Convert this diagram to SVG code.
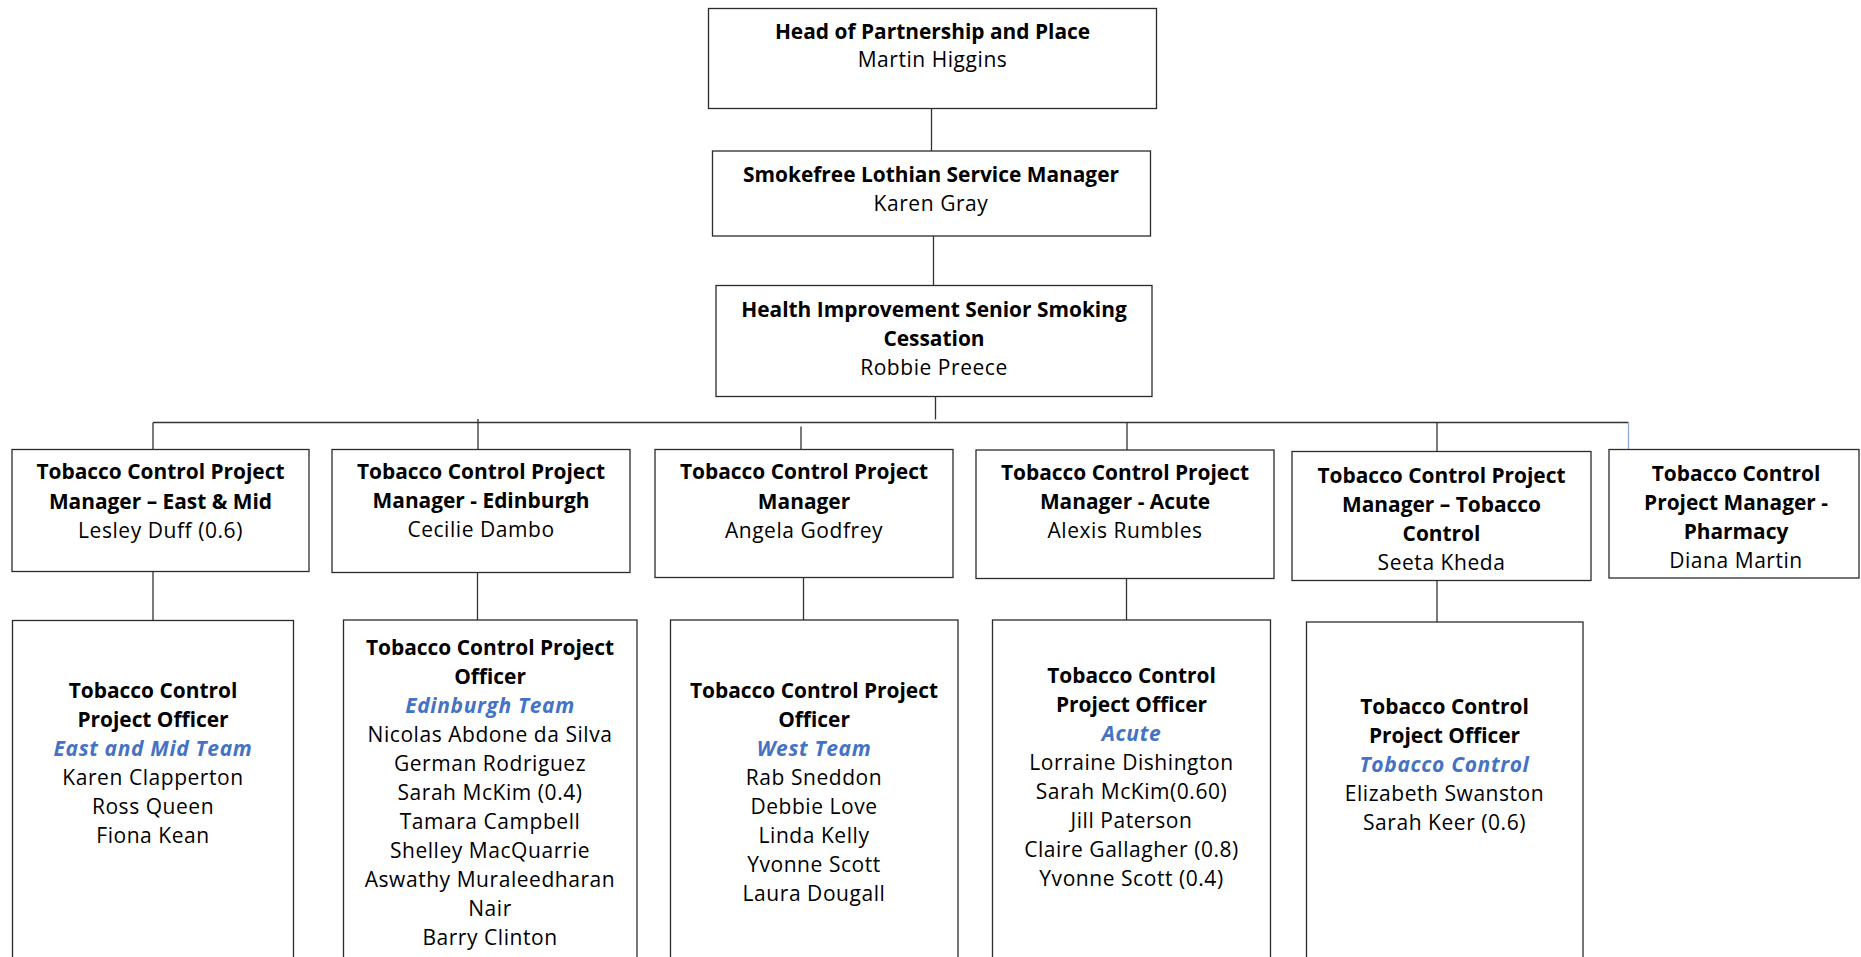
<svg xmlns="http://www.w3.org/2000/svg" width="1861" height="957" viewBox="0 0 1861 957">
<style>
.box{fill:#fff;stroke:#2b2b2b;stroke-width:1.3}
text{font-family:"Open Sans","Liberation Sans",sans-serif;font-size:21px;letter-spacing:0.55px;text-anchor:middle;fill:#000}
.b{font-weight:700;font-size:20.9px;letter-spacing:0}
.t{font-weight:700;font-style:italic;fill:#4472C4;letter-spacing:0.65px}
.conn line{stroke:#333;stroke-width:1.3}
</style>
<rect width="1861" height="957" fill="#fff"/>
<g class="conn">
<line x1="931.5" y1="108.5" x2="931.5" y2="151"/>
<line x1="933.5" y1="236" x2="933.5" y2="285.5"/>
<line x1="935.5" y1="396.5" x2="935.5" y2="419.5"/>
<line x1="153" y1="422.5" x2="1628.5" y2="422.5"/>
<line x1="153" y1="422.5" x2="153" y2="449.5"/>
<line x1="478" y1="419" x2="478" y2="449.5"/>
<line x1="801" y1="426.5" x2="801" y2="449.5"/>
<line x1="1127" y1="422.5" x2="1127" y2="450"/>
<line x1="1437" y1="422.5" x2="1437" y2="451.5"/>
<line x1="1628.5" y1="422.5" x2="1628.5" y2="449.5" style="stroke:#8FAADC"/>
<line x1="153" y1="571.5" x2="153" y2="620.5"/>
<line x1="477.5" y1="572.5" x2="477.5" y2="620"/>
<line x1="803.5" y1="577.5" x2="803.5" y2="620"/>
<line x1="1126.5" y1="578.5" x2="1126.5" y2="620"/>
<line x1="1437" y1="580.5" x2="1437" y2="622"/>
</g>
<g id="head">
<rect class="box" x="708.5" y="8.5" width="448" height="100"/>
<text class="b" x="932.5" y="39">Head of Partnership and Place</text>
<text x="932.5" y="67">Martin Higgins</text>
</g>
<g id="service-manager">
<rect class="box" x="712.5" y="151" width="438" height="85"/>
<text class="b" x="931" y="182">Smokefree Lothian Service Manager</text>
<text x="931" y="211">Karen Gray</text>
</g>
<g id="senior">
<rect class="box" x="716" y="285.5" width="436" height="111"/>
<text class="b" x="934" y="316.5">Health Improvement Senior Smoking</text>
<text class="b" x="934" y="345.5">Cessation</text>
<text x="934" y="375">Robbie Preece</text>
</g>
<g id="m1">
<rect class="box" x="12" y="449.5" width="297" height="122"/>
<text class="b" x="160.5" y="479">Tobacco Control Project</text>
<text class="b" x="160.5" y="508.5">Manager – East &amp; Mid</text>
<text x="160.5" y="538">Lesley Duff (0.6)</text>
</g>
<g id="m2">
<rect class="box" x="332" y="449.5" width="298" height="123"/>
<text class="b" x="481" y="478.5">Tobacco Control Project</text>
<text class="b" x="481" y="507.5">Manager - Edinburgh</text>
<text x="481" y="537">Cecilie Dambo</text>
</g>
<g id="m3">
<rect class="box" x="655" y="449.5" width="298" height="128"/>
<text class="b" x="804" y="479">Tobacco Control Project</text>
<text class="b" x="804" y="508.5">Manager</text>
<text x="804" y="537.5">Angela Godfrey</text>
</g>
<g id="m4">
<rect class="box" x="976" y="450" width="298" height="128.5"/>
<text class="b" x="1125" y="480">Tobacco Control Project</text>
<text class="b" x="1125" y="509">Manager - Acute</text>
<text x="1125" y="538">Alexis Rumbles</text>
</g>
<g id="m5">
<rect class="box" x="1292" y="451.5" width="299" height="129"/>
<text class="b" x="1441.5" y="483">Tobacco Control Project</text>
<text class="b" x="1441.5" y="512">Manager – Tobacco</text>
<text class="b" x="1441.5" y="541">Control</text>
<text x="1441.5" y="570">Seeta Kheda</text>
</g>
<g id="m6">
<rect class="box" x="1609" y="449.5" width="250" height="128.5"/>
<text class="b" x="1736" y="480.5">Tobacco Control</text>
<text class="b" x="1736" y="509.5">Project Manager -</text>
<text class="b" x="1736" y="538.5">Pharmacy</text>
<text x="1736" y="567.5">Diana Martin</text>
</g>
<g id="o1">
<rect class="box" x="12.5" y="620.5" width="281" height="345"/>
<text class="b" x="153" y="698">Tobacco Control</text>
<text class="b" x="153" y="727">Project Officer</text>
<text class="t" x="153" y="756">East and Mid Team</text>
<text x="153" y="785">Karen Clapperton</text>
<text x="153" y="814">Ross Queen</text>
<text x="153" y="843">Fiona Kean</text>
</g>
<g id="o2">
<rect class="box" x="343.5" y="620" width="293.5" height="345"/>
<text class="b" x="490" y="655">Tobacco Control Project</text>
<text class="b" x="490" y="684">Officer</text>
<text class="t" x="490" y="713">Edinburgh Team</text>
<text x="490" y="742">Nicolas Abdone da Silva</text>
<text x="490" y="771">German Rodriguez</text>
<text x="490" y="800">Sarah McKim (0.4)</text>
<text x="490" y="829">Tamara Campbell</text>
<text x="490" y="858">Shelley MacQuarrie</text>
<text x="490" y="887">Aswathy Muraleedharan</text>
<text x="490" y="916">Nair</text>
<text x="490" y="945">Barry Clinton</text>
</g>
<g id="o3">
<rect class="box" x="670.5" y="620" width="287.5" height="345"/>
<text class="b" x="814" y="698">Tobacco Control Project</text>
<text class="b" x="814" y="727">Officer</text>
<text class="t" x="814" y="756">West Team</text>
<text x="814" y="785">Rab Sneddon</text>
<text x="814" y="814">Debbie Love</text>
<text x="814" y="843">Linda Kelly</text>
<text x="814" y="872">Yvonne Scott</text>
<text x="814" y="901">Laura Dougall</text>
</g>
<g id="o4">
<rect class="box" x="992.5" y="620" width="278" height="345"/>
<text class="b" x="1131.5" y="682.5">Tobacco Control</text>
<text class="b" x="1131.5" y="711.5">Project Officer</text>
<text class="t" x="1131.5" y="740.5">Acute</text>
<text x="1131.5" y="769.5">Lorraine Dishington</text>
<text x="1131.5" y="798.5">Sarah McKim(0.60)</text>
<text x="1131.5" y="827.5">Jill Paterson</text>
<text x="1131.5" y="856.5">Claire Gallagher (0.8)</text>
<text x="1131.5" y="885.5">Yvonne Scott (0.4)</text>
</g>
<g id="o5">
<rect class="box" x="1306.5" y="622" width="276.5" height="345"/>
<text class="b" x="1444.5" y="713.5">Tobacco Control</text>
<text class="b" x="1444.5" y="742.5">Project Officer</text>
<text class="t" x="1444.5" y="771.5">Tobacco Control</text>
<text x="1444.5" y="800.5">Elizabeth Swanston</text>
<text x="1444.5" y="829.5">Sarah Keer (0.6)</text>
</g>
</svg>
